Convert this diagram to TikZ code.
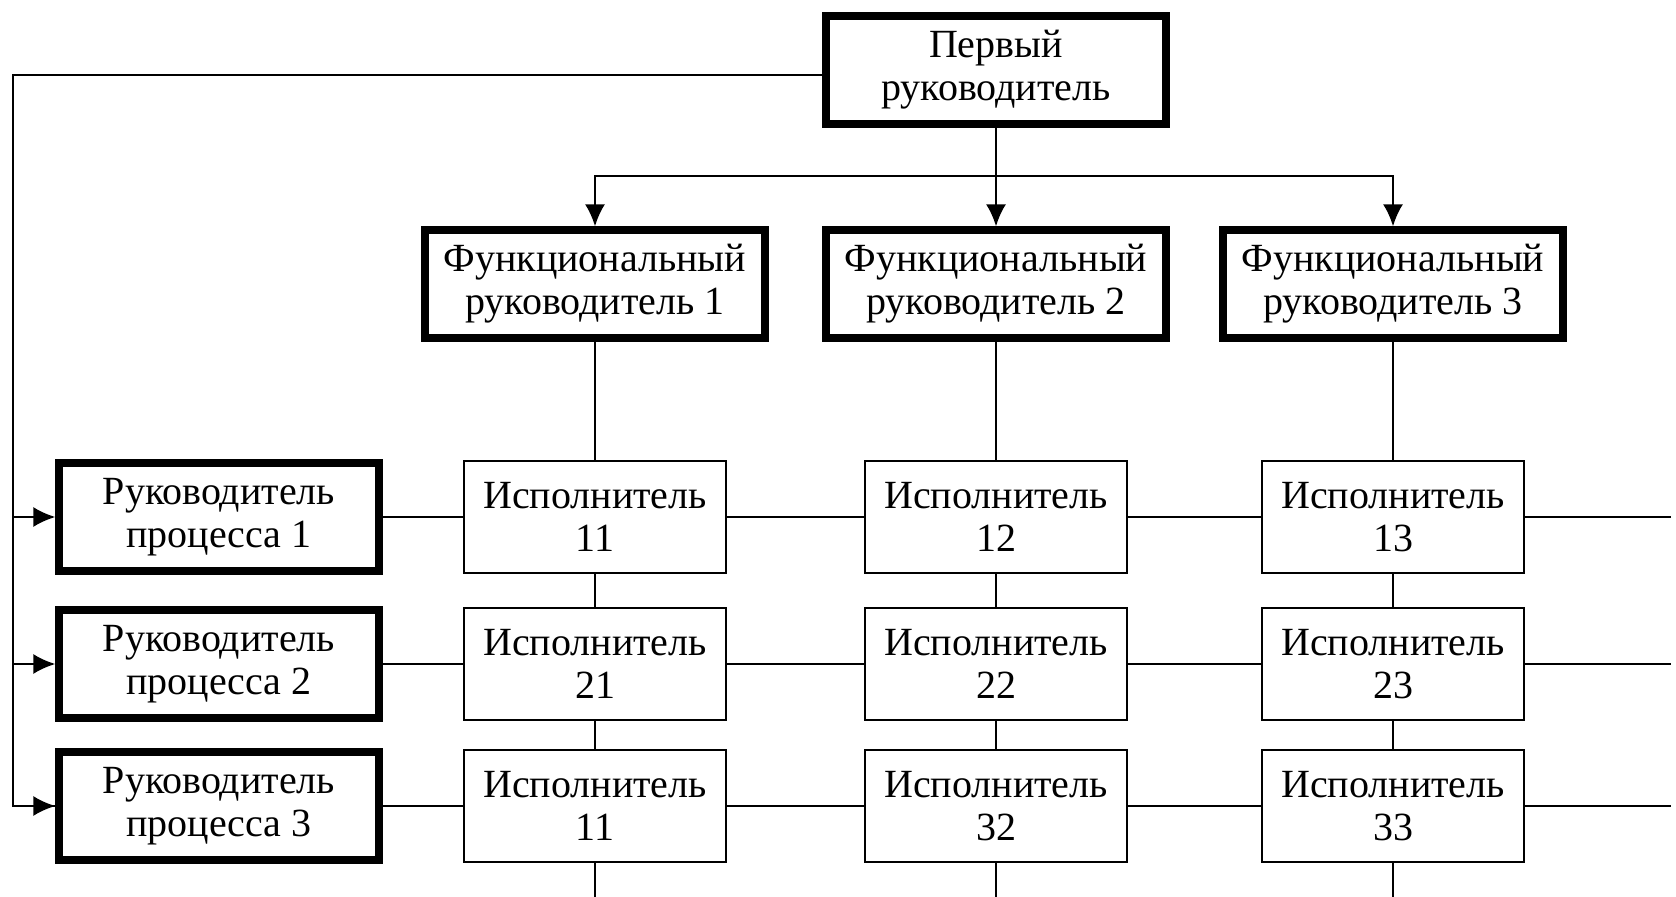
\documentclass[tikz,border=0pt]{standalone}
\usepackage{fontspec}
\setmainfont{Liberation Serif}
\usetikzlibrary{positioning, arrows.meta}
\tikzset{
    every node/.style={align=center, font=\fontsize{20}{21.5}\selectfont, inner sep=0pt}, % text of all boxes
    boss/.style={draw, line width=3.6pt, minimum width=170pt, minimum height=54pt}, % thick boxes of the managers
    procboss/.style={boss, minimum width=160pt},
    worker/.style={draw, line width=1pt, minimum width=131pt, minimum height=56pt}, % thin boxes of the executors
    link/.style={line width=1.2pt},
    arrow/.style={link, -{Latex[length=11pt, width=10pt]}},
}
\begin{document}
\begin{tikzpicture}[x=0.5pt, y=-0.5pt, on grid]
        \useasboundingbox (0,0) rectangle (1676,897);
        % Руководители
        \node[boss] (top) at (996,70) {Первый\\руководитель};
        \node[boss] (f2) [below=107pt of top] {Функциональный\\руководитель 2};
        \node[boss] (f1) [left=200.5pt of f2] {Функциональный\\руководитель 1};
        \node[boss] (f3) [right=198.5pt of f2] {Функциональный\\руководитель 3};

        % Исполнители
        \node[worker] (e11) [below=116.5pt of f1] {Исполнитель\\11};
        \node[worker] (e12) [below=116.5pt of f2] {Исполнитель\\12};
        \node[worker] (e13) [below=116.5pt of f3] {Исполнитель\\13};
        \node[worker] (e21) [below=73.5pt of e11] {Исполнитель\\21};
        \node[worker] (e22) [below=73.5pt of e12] {Исполнитель\\22};
        \node[worker] (e23) [below=73.5pt of e13] {Исполнитель\\23};
        \node[worker] (e31) [below=71pt of e21] {Исполнитель\\11};
        \node[worker] (e32) [below=71pt of e22] {Исполнитель\\32};
        \node[worker] (e33) [below=71pt of e23] {Исполнитель\\33};

        % Руководители процессов
        \node[procboss] (p1) [left=188pt of e11] {Руководитель\\процесса 1};
        \node[procboss] (p2) [left=188pt of e21] {Руководитель\\процесса 2};
        \node[procboss] (p3) [left=188pt of e31] {Руководитель\\процесса 3};

        % Свободные концы линий
        \coordinate (rail) at (13,75);
        \coordinate (bus) at (996,176);
        \foreach \r in {1,2,3} {
            \coordinate (r\r) at (e\r3.east -| 1671,0);
            \coordinate (b\r) at (e3\r.south |- 0,897);
        }

        % Связи
        \draw[link] (top.west |- rail) -- (rail) |- (p3.west);
        \draw[arrow] (rail |- p3.west) -- (p3.west);
        \draw[arrow] (rail |- p1.west) -- (p1.west);
        \draw[arrow] (rail |- p2.west) -- (p2.west);
        \draw[arrow] (top.south) -- (f2.north);
        \draw[arrow] (bus) -| (f1.north);
        \draw[arrow] (bus) -| (f3.north);
        \foreach \c in {1,2,3} {
            \draw[link] (f\c.south) -- (e1\c.north);
            \draw[link] (e1\c.south) -- (e2\c.north);
            \draw[link] (e2\c.south) -- (e3\c.north);
            \draw[link] (e3\c.south) -- (b\c);
            \draw[link] (p\c.east) -- (e\c1.west);
            \draw[link] (e\c1.east) -- (e\c2.west);
            \draw[link] (e\c2.east) -- (e\c3.west);
            \draw[link] (e\c3.east) -- (r\c);
        }
\end{tikzpicture}
\end{document}
